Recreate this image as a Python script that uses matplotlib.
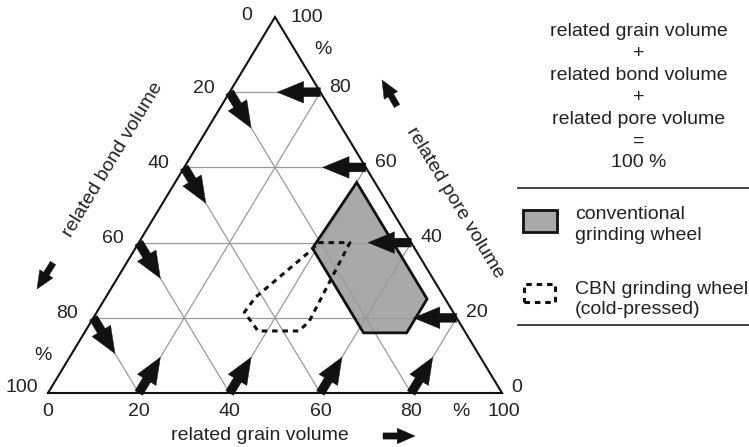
import matplotlib.pyplot as plt
from matplotlib.patches import Polygon, Rectangle
from matplotlib.lines import Line2D
import numpy as np

plt.rcParams['font.family'] = ['Liberation Sans', 'DejaVu Sans']

# grid / tick values (percent)
ticks = [20, 40, 60, 80]

# conventional grinding wheel region (related grain, related pore in %)
conv_grain = [40, 39, 61.5, 71, 71]
conv_pore = [56, 38.5, 16, 16, 25]

# CBN grinding wheel (cold-pressed) region
cbn_grain = [39.5, 46.5, 48, 47, 38, 32.5, 33, 39]
cbn_pore = [40, 40, 19, 16.5, 16.5, 21.5, 25.5, 38]

legend_sum = ['related grain volume', '+', 'related bond volume', '+',
              'related pore volume', '=', '100 %']

W, H = 749, 447
fig = plt.figure(figsize=(W / 100, H / 100), dpi=100)
ax = fig.add_axes([0, 0, 1, 1])
# triangle corners in pixels: left (48, 393), right (502, 393), apex y = 17
x0, x1, yb, yt = 48, 502, 393, 17
sx, sy = x1 - x0, yb - yt
ax.set_xlim(-x0 / sx, (W - x0) / sx)
ax.set_ylim(-(H - yb) / sy, yb / sy)
ax.axis('off')

TXT = '#222222'
FS = 14


def tern(g, p):
    g = np.asarray(g, dtype=float) / 100
    p = np.asarray(p, dtype=float) / 100
    return g + p / 2, p


def fp(px, py):
    return px / W, 1 - py / H


# grid lines
for t in ticks:
    ax.plot(*tern([0, 100 - t], [t, t]), color='#9a9a9a', lw=0.9, zorder=2)
    ax.plot(*tern([t, t], [0, 100 - t]), color='#9a9a9a', lw=0.9, zorder=2)
    ax.plot(*tern([0, 100 - t], [100 - t, 0]), color='#9a9a9a', lw=0.9, zorder=2)

# regions
cx, cy = tern(conv_grain, conv_pore)
ax.add_patch(Polygon(np.column_stack([cx, cy]), closed=True, fc='#a9a9a9',
                     ec='none', zorder=1))
ax.add_patch(Polygon(np.column_stack([cx, cy]), closed=True, fc='none',
                     ec='#111111', lw=2, zorder=3))
bx, by = tern(cbn_grain, cbn_pore)
ax.add_patch(Polygon(np.column_stack([bx, by]), closed=True, fc='none',
                     ec='#111111', lw=2.2, ls=(0, (1.8, 1.6)), zorder=4,
                     joinstyle='round'))

# triangle outline
ax.plot(*tern([0, 100, 0, 0], [0, 0, 100, 0]), color='#111111', lw=1.5,
        zorder=5, solid_joinstyle='miter')

arrow = dict(arrowstyle='simple,head_length=0.95,head_width=0.78,tail_width=0.32',
             fc='#111111', ec='#111111', lw=0.3, mutation_scale=20,
             shrinkA=0, shrinkB=0)
L = 9.5
for t in ticks:
    # left side: bond = t, arrow down-right along constant bond
    ax.annotate('', xy=tern(L, 100 - t - L), xytext=tern(0, 100 - t),
                arrowprops=arrow, zorder=6)
    # bottom: grain = t, arrow up-right along constant grain
    ax.annotate('', xy=tern(t, L), xytext=tern(t, 0), arrowprops=arrow, zorder=6)
    # right side: pore = t, arrow left along constant pore
    ax.annotate('', xy=tern(100 - t - L, t), xytext=tern(100 - t, t),
                arrowprops=arrow, zorder=6)

# tick labels
def lab(s, xy, off):
    ax.annotate(s, xy=xy, xytext=off, textcoords='offset pixels', ha='center',
                va='center', fontsize=FS, color=TXT)

for t in [0] + ticks:
    lab(str(t), tern(t, 0), (0, -18))
lab('%', tern(90, 0), (4, -18))
lab('100', tern(100, 0), (2, -18))

for t in ticks:
    lab(str(t), tern(0, 100 - t), (-26, 4))
lab('100', tern(0, 0), (-26, 5))
lab('%', tern(0, 10), (-28, 0))
lab('0', tern(0, 100), (-28, 2))

for t in ticks:
    lab(str(t), tern(100 - t, t), (20, 5))
lab('100', tern(0, 100), (32, 0))
lab('%', tern(10, 90), (25, 5))
lab('0', tern(100, 0), (15, 6))

# axis titles
ang = np.degrees(np.arctan2(sy, sx / 2))
fig.text(*fp(113, 160), 'related bond volume', rotation=ang, rotation_mode='anchor',
         ha='center', va='center', fontsize=FS, color=TXT)
fig.text(*fp(455, 203), 'related pore volume', rotation=-ang, rotation_mode='anchor',
         ha='center', va='center', fontsize=FS, color=TXT)
fig.text(*fp(260, 436), 'related grain volume', ha='center', va='center',
         fontsize=FS, color=TXT)

arrow2 = dict(arrowstyle='simple,head_length=0.8,head_width=0.7,tail_width=0.28',
              fc='#111111', ec='#111111', lw=0.3, mutation_scale=16,
              shrinkA=0, shrinkB=0)
for start, end in [((53, 263), (37, 289)), ((397, 106), (382, 80)),
                   ((383, 436), (415, 436))]:
    ax.annotate('', xy=(end[0], H - end[1]), xycoords='figure pixels',
                xytext=(start[0], H - start[1]), textcoords='figure pixels',
                arrowprops=arrow2)

# legend block
for i, s in enumerate(legend_sum):
    fig.text(*fp(639, 32 + i * 21.8), s, ha='center', va='center', fontsize=FS,
             color=TXT)
for y in [188, 325]:
    fig.add_artist(Line2D([518 / W, 1], [1 - y / H] * 2, color='#333333', lw=1.3))
fig.add_artist(Rectangle(fp(523, 232), 34 / W, 22 / H, transform=fig.transFigure,
                         fc='#a9a9a9', ec='#111111', lw=2))
fig.add_artist(Rectangle(fp(524, 302), 31 / W, 18 / H, transform=fig.transFigure,
                         fc='none', ec='#111111', lw=2.2, ls=(0, (1.8, 1.6))))
fig.text(*fp(575, 215), 'conventional', ha='left', va='center', fontsize=FS, color=TXT)
fig.text(*fp(575, 235), 'grinding wheel', ha='left', va='center', fontsize=FS, color=TXT)
fig.text(*fp(575, 290), 'CBN grinding wheel', ha='left', va='center', fontsize=FS,
         color=TXT)
fig.text(*fp(575, 309), '(cold-pressed)', ha='left', va='center', fontsize=FS,
         color=TXT)

fig.savefig('out.png', dpi=100)
